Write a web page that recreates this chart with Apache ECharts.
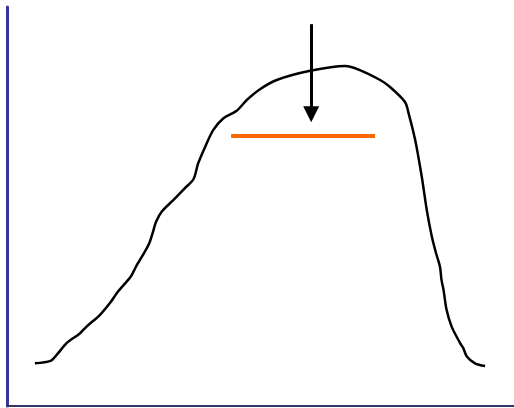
<!DOCTYPE html>
<html>
<head>
<meta charset="utf-8">
<style>
  html, body { margin: 0; padding: 0; background: #fff; }
  #chart { width: 514px; height: 408px; }
</style>
<script src="https://cdn.jsdelivr.net/npm/echarts@6/dist/echarts.min.js"></script>
</head>
<body>
<div id="chart"></div>
<script>
// curve (x: 0..100, y: 0..100)
var curveX = [5.5, 8.6, 9.8, 11.8, 14.3, 15.7, 18.3, 20.3, 21.9, 23.9, 24.6, 25.6, 27.2, 28.1, 28.9, 29.4, 30.5, 32.8, 35.1, 36.8, 37.7, 39.1, 40.7, 42.7, 45.3, 47.3, 49.9, 53.2, 59.8, 66.7, 69.6, 73.6, 75.5, 78.5, 79.2, 80.5, 81.8, 82.8, 83.8, 84.6, 85.4, 85.7, 86.1, 86.7, 87.7, 89.4, 90.0, 90.7, 92.3, 94.3];
var curveY = [10.7, 11.3, 12.8, 15.8, 18.1, 19.9, 22.8, 25.8, 28.7, 31.6, 32.8, 35.3, 38.7, 40.9, 44.1, 46.2, 48.7, 51.6, 54.6, 56.9, 60.8, 65.0, 69.2, 72.1, 74.0, 76.7, 79.4, 81.7, 84.0, 85.2, 84.2, 81.7, 80.0, 76.2, 73.4, 66.7, 57.5, 49.1, 42.4, 38.4, 34.9, 31.6, 29.1, 24.1, 19.9, 15.7, 14.5, 12.4, 10.7, 10.0];

// orange level bar
var levelX = [44.2, 72.6];
var levelY = [67.7, 67.7];

// arrow pointing down at the peak
var arrowX = [60, 60];
var arrowY = [95.7, 73.1];

function pairs(xs, ys) {
  return xs.map(function (x, i) { return [x, ys[i]]; });
}

var chart = echarts.init(document.getElementById("chart"));

var option = {
  backgroundColor: "#ffffff",
  animation: false,
  grid: {
    left: 7,
    right: 0,
    top: 7,
    bottom: 2
  },
  xAxis: {
    type: "value",
    min: 0,
    max: 100,
    axisLine: { show: true, lineStyle: { color: "#333366", width: 2 } },
    axisTick: { show: false },
    axisLabel: { show: false },
    splitLine: { show: false }
  },
  yAxis: {
    type: "value",
    min: 0,
    max: 100,
    axisLine: { show: true, lineStyle: { color: "#333399", width: 3 } },
    axisTick: { show: false },
    axisLabel: { show: false },
    splitLine: { show: false }
  },
  series: [
    {
      type: "line",
      data: pairs(curveX, curveY),
      smooth: 0.3,
      symbol: "none",
      lineStyle: { color: "#000000", width: 2.5 }
    },
    {
      type: "line",
      data: pairs(levelX, levelY),
      symbol: "none",
      lineStyle: { color: "#ff6600", width: 4 }
    },
    {
      type: "line",
      data: [],
      markLine: {
        silent: true,
        symbol: ["none", "triangle"],
        symbolSize: [16, 16],
        label: { show: false },
        lineStyle: { color: "#000000", width: 3, type: "solid" },
        data: [[
          { coord: [arrowX[0], arrowY[0]] },
          { coord: [arrowX[1], arrowY[1]] }
        ]]
      }
    }
  ]
};

chart.setOption(option);
</script>
</body>
</html>
